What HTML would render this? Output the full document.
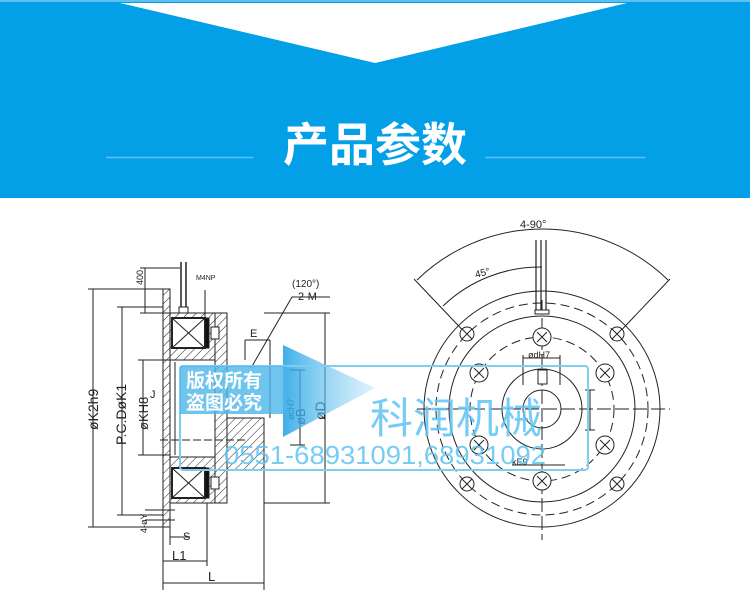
<!DOCTYPE html>
<html><head><meta charset="utf-8"><style>
html,body{margin:0;padding:0;background:#fff;width:750px;height:597px;overflow:hidden}
svg{display:block}
</style></head><body>
<svg width="750" height="597" viewBox="0 0 750 597" xmlns="http://www.w3.org/2000/svg" font-family="Liberation Sans, DejaVu Sans, sans-serif">
<defs>
<pattern id="h" width="6" height="6" patternUnits="userSpaceOnUse" patternTransform="rotate(45)">
<rect width="6" height="6" fill="#fff"/><line x1="0" y1="0" x2="0" y2="6" stroke="#222" stroke-width="1"/></pattern>
<linearGradient id="ag" x1="0" x2="1"><stop offset="0" stop-color="#2aa6e6" stop-opacity="0.9"/><stop offset="1" stop-color="#8fd3f5" stop-opacity="0.3"/></linearGradient>
<g id="hx"><path d="M-5 -5L5 5M5 -5L-5 5" stroke="#222" stroke-width="1"/></g>
</defs>
<!-- header -->
<rect x="0" y="0" width="750" height="198" fill="#03a0e8"/>
<rect x="0" y="0" width="750" height="2" fill="#5cc0f0"/>
<polygon points="120,3 627,3 375,63" fill="#fff"/>
<text x="375" y="161" text-anchor="middle" font-size="46" font-weight="bold" fill="#fff" font-family="Liberation Sans, Noto Sans CJK SC, sans-serif">产品参数</text>
<line x1="106" y1="157.5" x2="253" y2="157.5" stroke="#5ec3f2" stroke-width="1.5"/>
<line x1="485" y1="157.5" x2="645" y2="157.5" stroke="#5ec3f2" stroke-width="1.5"/>

<!-- left drawing -->
<g stroke="#222" stroke-width="1" fill="none">
<rect x="163" y="289" width="7" height="238" fill="url(#h)"/>
<rect x="170" y="313" width="45" height="190" fill="url(#h)"/>
<rect x="215" y="313" width="12" height="190" fill="url(#h)"/>
<rect x="227" y="418" width="37" height="52" fill="url(#h)"/>
<rect x="170" y="360" width="45" height="97" fill="#fff"/>
<rect x="172" y="318" width="33" height="30" fill="#fff" stroke-width="2"/>
<path d="M172 318L205 348M205 318L172 348"/>
<rect x="172" y="468" width="33" height="30" fill="#fff" stroke-width="2"/>
<path d="M172 468L205 498M205 468L172 498"/>
<rect x="205" y="318" width="4" height="30" fill="#111"/>
<rect x="205" y="468" width="4" height="30" fill="#111"/>
<rect x="211" y="327" width="8" height="12" fill="#fff"/>
<rect x="211" y="477" width="8" height="12" fill="#fff"/>
<line x1="175" y1="362" x2="175" y2="455"/>
<rect x="179" y="307" width="9" height="6" fill="#fff"/>
<path d="M181 262V307M186 262V307" stroke-width="1.5"/>
<path d="M93 289V527M88 289H163M88 527H163"/>
<path d="M122 307V515M117 307H163M117 515H163"/>
<path d="M143 360V455M138 360H170M138 455H170"/>
<path d="M140 268H180M140 313H180M145 268V313"/>
<path d="M264 313H330M264 503H330M325 313V503M300 370V445M290 370H305M290 445H305"/>
<path d="M160 440H245" stroke-dasharray="8 3"/>
<path d="M163 527V590M264 470V590M207 503V566M170 527V545"/>
<path d="M163 583H264M163 561H207M170 537H190"/>
<path d="M145 510H175M145 520H175"/>
<path d="M245 340V360M245 340H270M270 340V418"/>
<path d="M251 368L292 297H330"/>
<path d="M205 290V330"/>
</g>
<g font-size="11" fill="#222" font-family="Liberation Sans, sans-serif">
<text transform="translate(98,430) rotate(-90)" font-size="14">øK2h9</text>
<text transform="translate(126,445) rotate(-90)" font-size="14">P.C.DøK1</text>
<text transform="translate(148,430) rotate(-90)" font-size="13">øKH8</text>
<text transform="translate(143,285) rotate(-90)" font-size="9">400</text>
<text x="196" y="280" font-size="7">M4NP</text>
<text x="292" y="287" font-size="10">(120°)</text>
<text x="298" y="300" font-size="11">2-M</text>
<text x="250" y="337" font-size="11">E</text>
<text x="150" y="398" font-size="11">J</text>
<text x="183" y="540" font-size="11">S</text>
<text x="172" y="560" font-size="13">L1</text>
<text x="208" y="581" font-size="13">L</text>
<text transform="translate(147,533) rotate(-90)" font-size="9">4-øY</text>
<text transform="translate(294,420) rotate(-90)" font-size="9">øcH7</text>
<text transform="translate(305,425) rotate(-90)" font-size="13">øB</text>
<text transform="translate(325,420) rotate(-90)" font-size="14">øD</text>
</g>

<!-- right drawing -->
<g stroke="#222" stroke-width="1" fill="none">
<circle cx="542" cy="409" r="118"/>
<circle cx="542" cy="409" r="106" stroke-dasharray="9 5"/>
<circle cx="542" cy="409" r="93"/>
<circle cx="542" cy="409" r="72" stroke-dasharray="9 5"/>
<circle cx="542" cy="409" r="40"/>
<circle cx="542" cy="409" r="19"/>
<path d="M417 409H670M542 300V540" stroke-dasharray="14 4"/>
<path d="M414 279L472 340M670 279L612 340"/>
<path d="M417 280A180 180 0 0 1 668 280"/>
<path d="M443 306A140 140 0 0 1 542 267"/>
<path d="M536 240V310M541 240V310M546 240V310" stroke-width="1.2"/>
<rect x="535" y="310" width="14" height="4" fill="#fff"/>
<rect x="538" y="370" width="9" height="14" fill="#fff"/>
<g fill="#fff">
<circle cx="467" cy="334" r="7"/><circle cx="617" cy="334" r="7"/>
<circle cx="467" cy="484" r="7"/><circle cx="617" cy="484" r="7"/>
<circle cx="542" cy="337" r="9"/><circle cx="542" cy="481" r="9"/>
<circle cx="479" cy="373" r="9"/><circle cx="605" cy="373" r="9"/>
<circle cx="479" cy="445" r="9"/><circle cx="605" cy="445" r="9"/>
</g>
<path d="M523 355V385M560 355V385M523 358H560"/>
<path d="M590 390V430M585 390H595M585 430H595"/>
<path d="M512 465H565"/>
</g>
<use href="#hx" x="467" y="334"/><use href="#hx" x="617" y="334"/>
<use href="#hx" x="467" y="484"/><use href="#hx" x="617" y="484"/>
<use href="#hx" x="542" y="337"/><use href="#hx" x="542" y="481"/>
<use href="#hx" x="479" y="373"/><use href="#hx" x="605" y="373"/>
<use href="#hx" x="479" y="445"/><use href="#hx" x="605" y="445"/>
<text x="528" y="358" font-size="9" fill="#222">ødH7</text>
<text x="512" y="465" font-size="9" fill="#222">kE9</text>
<text x="520" y="228" font-size="11" fill="#222">4-90°</text>
<text x="476" y="278" font-size="10" fill="#222" transform="rotate(-15 476 278)">45°</text>

<!-- watermark -->
<polygon points="283,345 375,388 283,437" fill="url(#ag)"/>
<rect x="180" y="366" width="408" height="104" fill="none" stroke="#7fcdf2" stroke-width="2" rx="3"/>
<rect x="180" y="366" width="106" height="48" fill="#4cb6ea" opacity="0.8"/>
<g font-family="Liberation Sans, Noto Sans CJK SC, sans-serif">
<text x="186" y="387" font-size="19" font-weight="bold" fill="#fff">版权所有</text>
<text x="186" y="409" font-size="19" font-weight="bold" fill="#fff">盗图必究</text>
<text x="370" y="433" font-size="42" fill="#5ec3f2" fill-opacity="0.85" textLength="172" lengthAdjust="spacingAndGlyphs">科润机械</text>
<text x="224" y="464" font-size="26" fill="#5ec3f2" fill-opacity="0.85" textLength="322" lengthAdjust="spacingAndGlyphs">0551-68931091,68931092</text>
</g>
</svg>
</body></html>
